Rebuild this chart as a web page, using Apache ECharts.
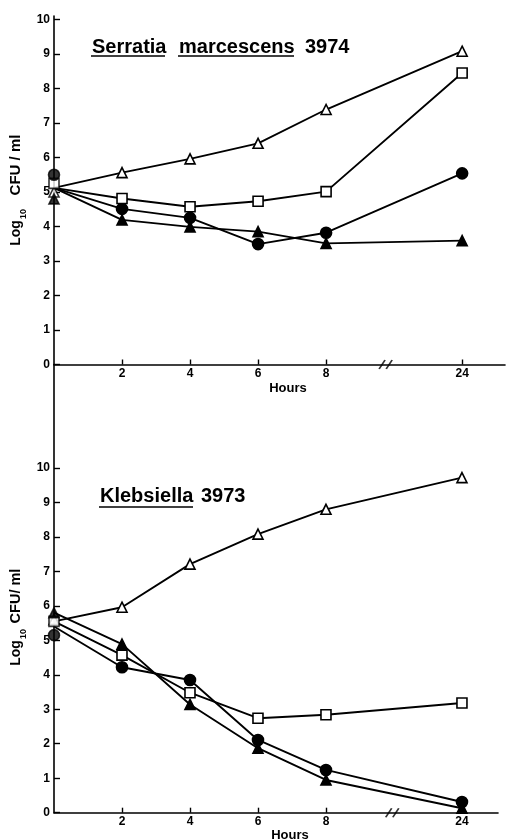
<!DOCTYPE html>
<html><head><meta charset="utf-8">
<script src="https://cdn.jsdelivr.net/npm/echarts@6/dist/echarts.min.js"></script>
<style>html,body{margin:0;padding:0;background:#fff}#c{width:509px;height:840px}</style>
</head><body><div id="c"></div>
<script>
// ---- data ----
const hours = [0, 2, 4, 6, 8, 24];
const xTickHours = [2, 4, 6, 8, 24];
const yTicks = [0, 1, 2, 3, 4, 5, 6, 7, 8, 9, 10];
const seriesKeys = ['openTri', 'square', 'circle', 'filledTri'];

// Serratia marcescens 3974 (line values; first value = common line start at 0 h)
const serOpenTri   = [5.12, 5.56, 5.96, 6.41, 7.39, 9.08];
const serSquare    = [5.12, 4.81, 4.57, 4.73, 5.01, 8.45];
const serCircle    = [5.12, 4.51, 4.25, 3.49, 3.82, 5.54];
const serFilledTri = [5.12, 4.19, 3.99, 3.85, 3.51, 3.59];
// markers plotted at 0 h: openTri, square, circle, filledTri
const serStartMarks = [5.0, 5.25, 5.5, 4.8];

// Klebsiella 3973
const klebOpenTri   = [5.55, 5.96, 7.21, 8.08, 8.80, 9.72];
const klebSquare    = [5.55, 4.57, 3.48, 2.74, 2.84, 3.18];
const klebCircle    = [5.40, 4.22, 3.85, 2.11, 1.24, 0.31];
const klebFilledTri = [5.80, 4.89, 3.14, 1.87, 0.95, 0.13];
const klebStartMarks = [5.6, 5.55, 5.15, 5.8];

// axis break (between 8 h and 24 h), position on the compressed axis
const breakPos = [9.75, 9.95];

// ---- helpers ----
const pos = h => (h <= 8 ? h : 8 + (h - 8) / 4);
const xTickPos = xTickHours.map(pos);
const FONT = 'Liberation Sans, Arial, Helvetica, sans-serif';
const styles = {
  openTri:   { symbol: 'triangle', color: '#fff', size: 10 },
  square:    { symbol: 'rect',     color: '#fff', size: 10 },
  circle:    { symbol: 'circle',   color: '#000', size: 11 },
  filledTri: { symbol: 'triangle', color: '#000', size: 10 }
};

function lineSeries(key, vals, gi) {
  const s = styles[key];
  return {
    type: 'line', xAxisIndex: gi, yAxisIndex: gi,
    symbol: s.symbol, symbolSize: s.size, showSymbol: true,
    itemStyle: { color: s.color, borderColor: '#000', borderWidth: 1.6 },
    lineStyle: { color: '#000', width: 1.9 },
    z: s.color === '#fff' ? 4 : 3,
    data: hours.map((h, i) => i === 0 ? { value: [pos(h), vals[i]], symbol: 'none' } : [pos(h), vals[i]])
  };
}
function startSeries(vals, gi) {
  return {
    type: 'scatter', xAxisIndex: gi, yAxisIndex: gi, z: 5,
    data: seriesKeys.map((k, i) => ({
      value: [0, vals[i]], symbol: styles[k].symbol, symbolSize: styles[k].size,
      itemStyle: { color: styles[k].color, borderColor: '#000', borderWidth: 1.6 }
    }))
  };
}
function breakSeries(gi) {
  return {
    type: 'scatter', xAxisIndex: gi, yAxisIndex: gi, z: 6,
    symbol: 'path://M0,10L5,0M6,10L11,0', symbolSize: [13, 9],
    itemStyle: { color: 'none', borderColor: '#000', borderWidth: 1.5 },
    data: [[breakPos[gi], 0]]
  };
}
function xAxis(gi, max) {
  return {
    type: 'value', gridIndex: gi, min: 0, max: max,
    axisLine: { onZero: false, lineStyle: { color: '#000', width: 1.6 } },
    axisTick: { customValues: xTickPos, inside: true, length: 5, lineStyle: { color: '#000', width: 1.4 } },
    axisLabel: {
      customValues: xTickPos, margin: 3, color: '#000', fontWeight: 'bold', fontSize: 12, fontFamily: FONT,
      formatter: v => String(xTickHours[xTickPos.indexOf(v)])
    },
    splitLine: { show: false }
  };
}
function yAxis(gi, min, max) {
  return {
    type: 'value', gridIndex: gi, min: min, max: max,
    axisLine: { show: true, onZero: false, lineStyle: { color: '#000', width: 1.6 } },
    axisTick: { show: true, customValues: yTicks, inside: true, length: 6, lineStyle: { color: '#000', width: 1.4 } },
    axisLabel: { customValues: yTicks, margin: 4, color: '#000', fontWeight: 'bold', fontSize: 12, fontFamily: FONT },
    splitLine: { show: false }
  };
}
function txt(x, y, text, size, align) {
  return {
    type: 'text', x: x, y: y, silent: true,
    style: { text: text, fill: '#000', font: 'bold ' + size + 'px ' + FONT, align: align || 'left', verticalAlign: 'middle' }
  };
}
function uline(x1, x2, y) {
  return { type: 'line', silent: true, shape: { x1: x1, y1: y, x2: x2, y2: y }, style: { stroke: '#000', lineWidth: 1.6 } };
}
function rtxt(x, y, text, size) {
  return {
    type: 'text', x: x, y: y, rotation: Math.PI / 2, silent: true,
    style: { text: text, fill: '#000', font: 'bold ' + size + 'px ' + FONT, align: 'center', verticalAlign: 'middle' }
  };
}

const chart = echarts.init(document.getElementById('c'), null, { renderer: 'canvas' });
chart.setOption({
  animation: false,
  backgroundColor: '#fff',
  grid: [
    { left: 54, top: 16, width: 451, height: 348.5, containLabel: false, outerBoundsMode: 'none' },
    { left: 54, top: 364.5, width: 444, height: 448.2, containLabel: false, outerBoundsMode: 'none' }
  ],
  xAxis: [xAxis(0, 13.26), xAxis(1, 13.06)],
  yAxis: [yAxis(0, 0, 10.1), yAxis(1, 0, 13.0)],
  series: [
    lineSeries('filledTri', serFilledTri, 0),
    lineSeries('circle', serCircle, 0),
    lineSeries('square', serSquare, 0),
    lineSeries('openTri', serOpenTri, 0),
    startSeries(serStartMarks, 0),
    breakSeries(0),
    lineSeries('filledTri', klebFilledTri, 1),
    lineSeries('circle', klebCircle, 1),
    lineSeries('square', klebSquare, 1),
    lineSeries('openTri', klebOpenTri, 1),
    startSeries(klebStartMarks, 1),
    breakSeries(1)
  ],
  graphic: [
    txt(92, 47, 'Serratia', 20), uline(91, 165, 56),
    txt(179, 47, 'marcescens', 20), uline(178, 294, 56),
    txt(305, 47, '3974', 20),
    txt(100, 496, 'Klebsiella', 20), uline(99, 193, 507),
    txt(201, 496, '3973', 20),
    rtxt(16, 233, 'Log', 14), rtxt(24, 214, '10', 9), rtxt(16, 165, 'CFU / ml', 15),
    rtxt(16, 653, 'Log', 14), rtxt(24, 634, '10', 9), rtxt(16, 596, 'CFU/ ml', 14.5),
    txt(288, 388, 'Hours', 13, 'center'),
    txt(290, 835, 'Hours', 13, 'center')
  ]
});
</script>
</body></html>
